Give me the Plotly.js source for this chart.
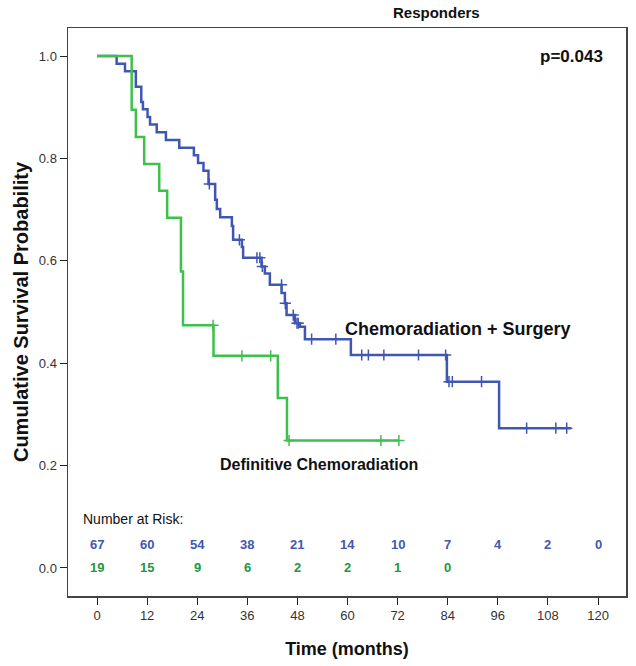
<!DOCTYPE html>
<html>
<head>
<meta charset="utf-8">
<script src="https://cdn.plot.ly/plotly-3.0.1.min.js"></script>
<style>html,body{margin:0;padding:0;background:#fff;}#chart{width:636px;height:666px;}</style>
</head>
<body>
<div id="chart"></div>
<script>
// Chemoradiation + Surgery (step curve)
var blueTime = [0, 4.7, 6.7, 9.3, 10.6, 11.0, 12.1, 12.7, 14.3, 16.5, 19.7, 23.2, 24.2, 25.5, 26.7, 28.3, 28.7, 29.5, 32.3, 32.6, 34.7, 35.0, 39.4, 40.2, 41.4, 44.2, 45.0, 45.4, 47.4, 48.6, 49.8, 60.8, 83.8, 96.3, 113.5];
var blueSurv = [1.0, 0.985, 0.970, 0.940, 0.910, 0.896, 0.881, 0.866, 0.851, 0.836, 0.821, 0.806, 0.791, 0.776, 0.750, 0.719, 0.701, 0.685, 0.668, 0.641, 0.627, 0.606, 0.589, 0.575, 0.553, 0.537, 0.517, 0.494, 0.478, 0.471, 0.447, 0.416, 0.364, 0.273, 0.273];
var blueCensTime = [26.9, 34.1, 38.3, 39.0, 39.6, 44.2, 45.1, 47.0, 47.9, 48.2, 51.4, 57.2, 63.4, 65.0, 68.7, 77.0, 83.5, 84.3, 85.1, 92.1, 102.9, 109.9, 112.5];
var blueCensSurv = [0.750, 0.641, 0.606, 0.606, 0.589, 0.553, 0.517, 0.494, 0.478, 0.478, 0.447, 0.447, 0.416, 0.416, 0.416, 0.416, 0.416, 0.364, 0.364, 0.364, 0.273, 0.273, 0.273];

// Definitive Chemoradiation (step curve)
var greenTime = [0, 8.3, 9.3, 11.3, 14.9, 16.8, 20.1, 20.6, 27.9, 43.3, 45.5, 72.3];
var greenSurv = [1.0, 0.895, 0.842, 0.789, 0.737, 0.684, 0.579, 0.474, 0.4145, 0.332, 0.249, 0.249];
var greenCensTime = [27.8, 34.7, 41.6, 46.0, 68.0, 72.3];
var greenCensSurv = [0.474, 0.4145, 0.4145, 0.249, 0.249, 0.249];

// Number at risk
var riskTimes = [0, 12, 24, 36, 48, 60, 72, 84, 96, 108, 120];
var blueRisk = [67, 60, 54, 38, 21, 14, 10, 7, 4, 2, 0];
var greenRisk = [19, 15, 9, 6, 2, 2, 1, 0];

var xTicks = [0, 12, 24, 36, 48, 60, 72, 84, 96, 108, 120];
var yTicks = [0.0, 0.2, 0.4, 0.6, 0.8, 1.0];

var BLUE = '#4057b2', GREEN = '#3fc04d', BLUE_T = '#4258b0', GREEN_T = '#1f9646';
var FONT = 'Liberation Sans, Arial, sans-serif';

var traces = [
  {x: blueTime, y: blueSurv, mode: 'lines', line: {shape: 'hv', color: BLUE, width: 2.5}, hoverinfo: 'skip'},
  {x: blueCensTime, y: blueCensSurv, mode: 'markers', marker: {symbol: 'cross-thin', size: 8, line: {color: BLUE, width: 1.5}}, hoverinfo: 'skip'},
  {x: greenTime, y: greenSurv, mode: 'lines', line: {shape: 'hv', color: GREEN, width: 2.5}, hoverinfo: 'skip'},
  {x: greenCensTime, y: greenCensSurv, mode: 'markers', marker: {symbol: 'cross-thin', size: 8, line: {color: GREEN, width: 1.5}}, hoverinfo: 'skip'}
];

var ann = [
  {xref: 'paper', yref: 'paper', x: 0.66, y: 1.0, yshift: 5, yanchor: 'bottom', xanchor: 'center', text: '<b>Responders</b>', showarrow: false, font: {family: FONT, size: 15, color: '#111'}},
  {xref: 'x', yref: 'y', x: 121.7, y: 1.0, xanchor: 'right', yanchor: 'middle', text: '<b>p=0.043</b>', showarrow: false, font: {family: FONT, size: 17, color: '#111'}},
  {xref: 'x', yref: 'y', x: 58.9, y: 0.467, xanchor: 'left', yanchor: 'middle', text: '<b>Chemoradiation + Surgery</b>', showarrow: false, font: {family: FONT, size: 18, color: '#111'}},
  {xref: 'x', yref: 'y', x: 29, y: 0.203, xanchor: 'left', yanchor: 'middle', text: '<b>Definitive Chemoradiation</b>', showarrow: false, font: {family: FONT, size: 16, color: '#111'}},
  {xref: 'x', yref: 'y', x: -3.8, y: 0.096, xanchor: 'left', yanchor: 'middle', text: 'Number at Risk:', showarrow: false, font: {family: FONT, size: 14, color: '#111'}}
];
for (var i = 0; i < blueRisk.length; i++) {
  ann.push({xref: 'x', yref: 'y', x: riskTimes[i], y: 0.045, xanchor: 'center', yanchor: 'middle', text: '<b>' + blueRisk[i] + '</b>', showarrow: false, font: {family: FONT, size: 13, color: BLUE_T}});
}
for (var j = 0; j < greenRisk.length; j++) {
  ann.push({xref: 'x', yref: 'y', x: riskTimes[j], y: 0.0, xanchor: 'center', yanchor: 'middle', text: '<b>' + greenRisk[j] + '</b>', showarrow: false, font: {family: FONT, size: 13, color: GREEN_T}});
}

var layout = {
  width: 636, height: 666,
  margin: {l: 68, r: 10, t: 28, b: 70},
  paper_bgcolor: '#fff', plot_bgcolor: '#fff',
  showlegend: false,
  font: {family: FONT, color: '#222'},
  xaxis: {
    range: [-6.95, 126.7], tickvals: xTicks, ticktext: xTicks.map(String),
    ticks: 'outside', ticklen: 7, tickwidth: 1, tickcolor: '#222',
    showline: true, linecolor: '#444', linewidth: 1.5, mirror: true,
    showgrid: false, zeroline: false,
    tickfont: {family: FONT, size: 13, color: '#333'},
    title: {text: '<b>Time (months)</b>', font: {family: FONT, size: 18, color: '#111'}, standoff: 20}
  },
  yaxis: {
    range: [-0.0547, 1.0547], tickvals: yTicks, ticktext: yTicks.map(function(v){return v.toFixed(1);}),
    ticks: 'outside', ticklen: 7, tickwidth: 1, tickcolor: '#222',
    showline: true, linecolor: '#444', linewidth: 1.5, mirror: true,
    showgrid: false, zeroline: false,
    tickfont: {family: FONT, size: 13, color: '#333'},
    title: {text: '<b>Cumulative Survival Probability</b>', font: {family: FONT, size: 20, color: '#111'}, standoff: 5}
  },
  annotations: ann
};

Plotly.newPlot('chart', traces, layout, {displayModeBar: false, staticPlot: true});
</script>
</body>
</html>
